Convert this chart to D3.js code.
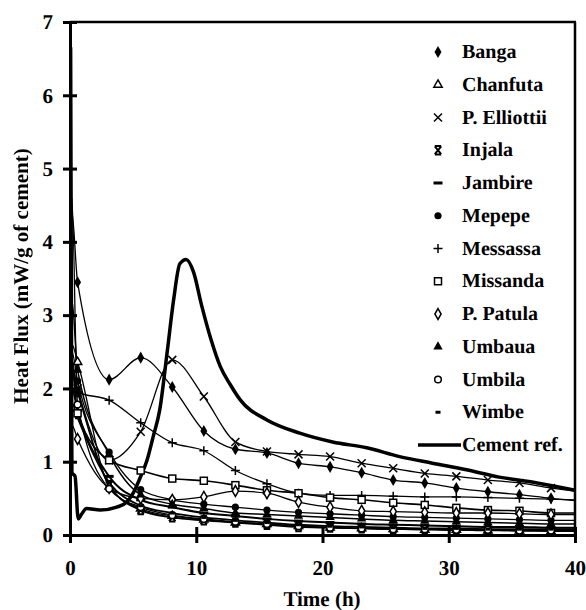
<!DOCTYPE html>
<html>
<head>
<meta charset="utf-8">
<script src="https://cdn.jsdelivr.net/npm/d3@7"></script>
<style>
  html, body { margin: 0; padding: 0; background: #fff; }
  svg { display: block; }
  svg text { font-family: "Liberation Serif", "Tinos", "Times New Roman", "DejaVu Serif", serif !important; font-weight: bold; fill: #000; text-rendering: geometricPrecision; }
</style>
</head>
<body>
<svg id="chart" width="586" height="610"></svg>
<script>
// ---------- data ----------
const seriesNames = ["Banga", "Chanfuta", "P. Elliottii", "Injala", "Jambire", "Mepepe",
  "Messassa", "Missanda", "P. Patula", "Umbaua", "Umbila", "Wimbe"];
const seriesSymbols = ["diamondFilled", "triangleOpen", "cross", "injala", "dash", "circleFilled",
  "plus", "squareOpen", "diamondOpen", "triangleFilled", "circleOpen", "smallDash"];

// common sampling times (h) for the wood series
const times = [0, 0.15, 0.6, 3.1, 5.6, 8.1, 10.6, 13.1, 15.6, 18.1, 20.6, 23.1, 25.6, 28.1, 30.6, 33.1, 35.6, 38.1, 40];

const banga      = [0, 4.4, 3.45, 2.12, 2.42, 2.02, 1.42, 1.17, 1.12, 0.98, 0.93, 0.85, 0.75, 0.71, 0.64, 0.59, 0.55, 0.50, 0.47];
const chanfuta   = [0, 2.6, 2.36, 0.66, 0.36, 0.26, 0.21, 0.17, 0.15, 0.12, 0.10, 0.09, 0.08, 0.07, 0.07, 0.06, 0.06, 0.05, 0.05];
const elliottii  = [0, 2.3, 2.0, 1.02, 1.41, 2.39, 1.89, 1.27, 1.14, 1.10, 1.07, 0.98, 0.91, 0.84, 0.80, 0.75, 0.71, 0.64, 0.60];
const injala     = [0, 2.2, 1.95, 0.68, 0.34, 0.24, 0.20, 0.17, 0.14, 0.11, 0.10, 0.09, 0.08, 0.08, 0.07, 0.07, 0.06, 0.06, 0.06];
const jambire    = [0, 2.0, 1.70, 0.80, 0.48, 0.38, 0.30, 0.26, 0.22, 0.19, 0.17, 0.15, 0.14, 0.13, 0.12, 0.11, 0.11, 0.10, 0.10];
const mepepe     = [0, 2.5, 2.10, 1.13, 0.62, 0.48, 0.42, 0.38, 0.34, 0.31, 0.29, 0.27, 0.25, 0.24, 0.23, 0.22, 0.21, 0.20, 0.20];
const messassa   = [0, 2.4, 1.95, 1.84, 1.53, 1.26, 1.15, 0.88, 0.70, 0.57, 0.54, 0.54, 0.53, 0.52, 0.52, 0.51, 0.50, 0.49, 0.48];
const missanda   = [0, 2.3, 1.66, 1.02, 0.88, 0.77, 0.74, 0.68, 0.61, 0.57, 0.51, 0.48, 0.44, 0.41, 0.37, 0.34, 0.33, 0.30, 0.30];
const patula     = [0, 1.5, 1.31, 0.64, 0.50, 0.48, 0.52, 0.60, 0.57, 0.45, 0.38, 0.33, 0.32, 0.31, 0.30, 0.30, 0.29, 0.28, 0.28];
const umbaua     = [0, 3.2, 2.25, 1.10, 0.55, 0.42, 0.36, 0.30, 0.28, 0.26, 0.24, 0.22, 0.20, 0.19, 0.18, 0.17, 0.16, 0.15, 0.15];
const umbila     = [0, 4.6, 1.78, 0.63, 0.38, 0.27, 0.22, 0.18, 0.15, 0.12, 0.10, 0.09, 0.08, 0.08, 0.07, 0.07, 0.06, 0.06, 0.06];
const wimbe      = [0, 1.8, 1.60, 0.72, 0.40, 0.30, 0.24, 0.20, 0.17, 0.14, 0.12, 0.11, 0.10, 0.09, 0.09, 0.08, 0.08, 0.08, 0.08];
const seriesValues = [banga, chanfuta, elliottii, injala, jambire, mepepe, messassa, missanda, patula, umbaua, umbila, wimbe];

// cement reference curve
const cementTime = [0, 0.05, 0.15, 0.4, 0.65, 0.9, 1.3, 2.4, 3.7, 4.5, 5.0, 5.6, 6.1, 6.6, 7.1, 7.7, 8.2, 8.7, 9.2, 9.8,
  10.4, 11.2, 11.9, 12.7, 13.5, 15.6, 18.2, 20.8, 23.5, 26.1, 28.7, 31.4, 34, 36.7, 40];
const cementFlux = [0, 6.65, 0.85, 0.80, 0.22, 0.28, 0.36, 0.34, 0.38, 0.45, 0.57, 0.80, 1.02, 1.35, 1.70, 2.50, 3.20, 3.70, 3.76, 3.58,
  3.15, 2.65, 2.30, 2.05, 1.84, 1.57, 1.39, 1.27, 1.19, 1.07, 0.98, 0.89, 0.79, 0.72, 0.61];
const cementName = "Cement ref.";

const xTicks = [0, 10, 20, 30, 40];
const yTicks = [0, 1, 2, 3, 4, 5, 6, 7];
const xTitle = "Time (h)";
const yTitle = "Heat Flux (mW/g of cement)";

// ---------- drawing ----------
const FONT = '"Liberation Serif", "Tinos", "Times New Roman", "DejaVu Serif", serif';
const svg = d3.select("#chart");
const x = d3.scaleLinear().domain([0, 40]).range([70, 575]);
const y = d3.scaleLinear().domain([0, 7]).range([535, 22]);

svg.append("rect").attr("width", 586).attr("height", 610).attr("fill", "#fff");

const defs = svg.append("defs");
defs.append("clipPath").attr("id", "clip")
  .append("rect").attr("x", 70).attr("y", 18).attr("width", 506).attr("height", 518);
defs.append("filter").attr("id", "gray").attr("x", "-10%").attr("y", "-10%").attr("width", "120%").attr("height", "120%")
  .append("feColorMatrix").attr("type", "saturate").attr("values", 0);

function symbolPath(g, type) {
  const s = g;
  switch (type) {
    case "diamondFilled":
      s.append("path").attr("d", d3.symbol(d3.symbolDiamond, 42)()).attr("fill", "#000"); break;
    case "diamondOpen":
      s.append("path").attr("d", d3.symbol(d3.symbolDiamond, 34)()).attr("fill", "#fff").attr("stroke", "#000").attr("stroke-width", 1.5); break;
    case "triangleOpen":
      s.append("path").attr("d", d3.symbol(d3.symbolTriangle, 30)()).attr("fill", "#fff").attr("stroke", "#000").attr("stroke-width", 1.5); break;
    case "triangleFilled":
      s.append("path").attr("d", d3.symbol(d3.symbolTriangle, 38)()).attr("fill", "#000"); break;
    case "circleFilled":
      s.append("circle").attr("r", 3.6).attr("fill", "#000"); break;
    case "circleOpen":
      s.append("circle").attr("r", 3.3).attr("fill", "#fff").attr("stroke", "#000").attr("stroke-width", 1.5); break;
    case "squareOpen":
      s.append("rect").attr("x", -3.5).attr("y", -3.5).attr("width", 7).attr("height", 7).attr("fill", "#fff").attr("stroke", "#000").attr("stroke-width", 1.5); break;
    case "cross":
      s.append("path").attr("d", "M-4,-4L4,4M-4,4L4,-4").attr("stroke", "#000").attr("stroke-width", 1.5).attr("fill", "none"); break;
    case "injala":
      s.append("path").attr("d", "M-3.2,-3.8L3.2,3.8M-3.2,3.8L3.2,-3.8M-3.2,-4.2L3.2,-4.2M-3.2,4.2L3.2,4.2").attr("stroke", "#000").attr("stroke-width", 2).attr("fill", "none"); break;
    case "plus":
      s.append("path").attr("d", "M-4.5,0L4.5,0M0,-4.5L0,4.5").attr("stroke", "#000").attr("stroke-width", 1.5).attr("fill", "none"); break;
    case "dash":
      s.append("rect").attr("x", -4.5).attr("y", -1.5).attr("width", 9).attr("height", 3).attr("fill", "#000"); break;
    case "smallDash":
      s.append("rect").attr("x", -2.5).attr("y", -1.5).attr("width", 5).attr("height", 3).attr("fill", "#000"); break;
  }
}

const plot = svg.append("g").attr("clip-path", "url(#clip)");
const line = d3.line().x(d => x(d[0])).y(d => y(d[1])).curve(d3.curveMonotoneX);
const lineWidths = [1.3, 1.3, 1.3, 1.8, 2.0, 1.3, 1.3, 1.6, 1.3, 1.5, 1.3, 1.8];

seriesValues.forEach((vals, i) => {
  const pts = times.map((t, k) => [t, vals[k]]);
  plot.append("path").attr("d", line(pts)).attr("fill", "none")
    .attr("stroke", "#000").attr("stroke-width", lineWidths[i]);
});

// cement reference line
const cementPts = cementTime.map((t, k) => [t, cementFlux[k]]);
plot.append("path").attr("d", line(cementPts))
  .attr("fill", "none").attr("stroke", "#000").attr("stroke-width", 3.5).attr("stroke-linejoin", "round");

// markers (skip the first two and last sample points)
seriesValues.forEach((vals, i) => {
  times.forEach((t, k) => {
    if (k < 2 || k === times.length - 1) return;
    const g = plot.append("g").attr("transform", `translate(${x(t)},${y(vals[k])})`);
    symbolPath(g, seriesSymbols[i]);
  });
});

// axes
const yAxis = svg.append("g").attr("transform", "translate(70,0)")
  .call(d3.axisLeft(y).tickValues(yTicks).tickFormat(d3.format("d")).tickSize(7).tickSizeOuter(0).tickPadding(10));
yAxis.attr("font-family", FONT).attr("font-size", 21);
yAxis.select(".domain").attr("stroke-width", 3);
yAxis.selectAll(".tick line").attr("x1", 7).attr("x2", -7).attr("stroke-width", 3);
yAxis.selectAll(".tick text").attr("font-size", 21).attr("font-family", FONT).attr("font-weight", "bold");

const xAxis = svg.append("g").attr("transform", "translate(0,535)")
  .call(d3.axisBottom(x).tickValues(xTicks).tickFormat(d3.format("d")).tickSize(8).tickSizeOuter(0).tickPadding(17));
xAxis.attr("font-family", FONT).attr("font-size", 21);
xAxis.select(".domain").attr("stroke-width", 3);
xAxis.selectAll(".tick line").attr("y1", -8).attr("y2", 8).attr("stroke-width", 3);
xAxis.selectAll(".tick text").attr("font-size", 21).attr("font-family", FONT).attr("font-weight", "bold");

// frame top and right
svg.append("line").attr("x1", 70).attr("x2", 576).attr("y1", y(7)).attr("y2", y(7)).attr("stroke", "#000").attr("stroke-width", 2.5);
svg.append("line").attr("x1", 575).attr("x2", 575).attr("y1", y(7)).attr("y2", 535).attr("stroke", "#000").attr("stroke-width", 2.5);

// axis titles
svg.append("text").attr("x", 322).attr("y", 606).attr("text-anchor", "middle").attr("font-size", 21)
  .attr("font-family", FONT).attr("fill", "#000").text(xTitle);
svg.append("g").attr("filter", "url(#gray)")
  .append("text").attr("transform", "translate(28,276) rotate(-90)").attr("text-anchor", "middle")
  .attr("font-size", 21).attr("font-family", FONT).attr("fill", "#000").text(yTitle);

// legend
const legend = svg.append("g");
const legendNames = seriesNames.concat([cementName]);
legendNames.forEach((name, i) => {
  const cy = 52 + i * 32.75;
  const g = legend.append("g").attr("transform", `translate(438,${cy})`);
  if (i < seriesNames.length) {
    symbolPath(g, seriesSymbols[i]);
  } else {
    legend.append("line").attr("x1", 418).attr("x2", 461).attr("y1", cy).attr("y2", cy)
      .attr("stroke", "#000").attr("stroke-width", 3.5);
  }
  legend.append("text").attr("x", 462).attr("y", cy + 6).attr("font-size", 20)
    .attr("font-family", FONT).text(name);
});
</script>
</body>
</html>
